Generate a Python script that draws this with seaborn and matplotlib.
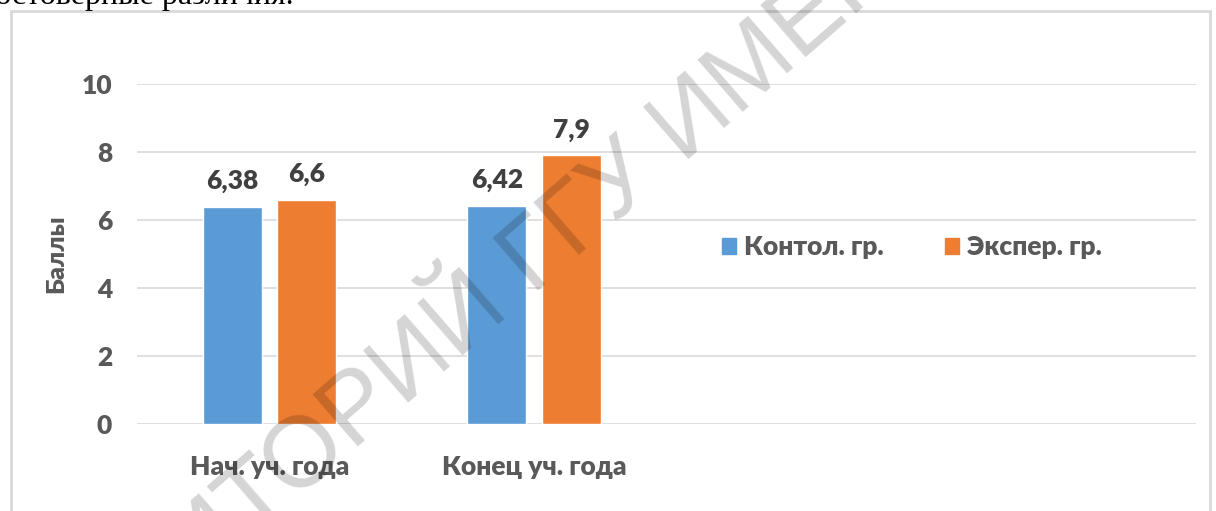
import pandas as pd
import matplotlib
matplotlib.use('Agg')
import matplotlib.pyplot as plt
import matplotlib.patches as mpatches
import seaborn as sns

# chart data
periods = ['Нач. уч. года', 'Конец уч. года']
groups = ['Контол. гр.', 'Экспер. гр.']
control_scores = [6.38, 6.42]
exper_scores = [6.6, 7.9]
y_ticks = [0, 2, 4, 6, 8, 10]

palette = {'Контол. гр.': '#5B9BD5', 'Экспер. гр.': '#ED7D31'}
text_color = '#595959'

df = pd.DataFrame({
    'period': periods * 2,
    'group': [groups[0]] * 2 + [groups[1]] * 2,
    'score': control_scores + exper_scores,
})

sns.set_style('white')
plt.rcParams['font.family'] = ['Lato', 'DejaVu Sans']

fig = plt.figure(figsize=(12.16, 5.11), dpi=100)
ax = fig.add_axes([137 / 1216, 87 / 511, 1059 / 1216, 340 / 511])

sns.barplot(data=df, x='period', y='score', hue='group', order=periods,
            hue_order=groups, palette=palette, width=0.564, gap=0.21,
            saturation=1, ax=ax)

# data labels with decimal comma
for cont in ax.containers:
    labels = [f'{b.get_height():g}'.replace('.', ',') for b in cont]
    ax.bar_label(cont, labels=labels, padding=10, fontsize=19,
                 fontweight='heavy', color='#404040')

ax.set_xlim(-0.5, 3.5)
ax.set_ylim(0, 10)
ax.set_yticks(y_ticks)
ax.grid(axis='y', color='#D9D9D9', linewidth=1.2)
ax.set_axisbelow(True)
sns.despine(ax=ax, left=True, bottom=True)
ax.tick_params(axis='both', length=0, labelsize=19, labelcolor=text_color)
ax.tick_params(axis='y', pad=18)
ax.tick_params(axis='x', pad=22)
for lab in ax.get_xticklabels() + ax.get_yticklabels():
    lab.set_fontweight('heavy')
ax.set_xlabel('')
ax.set_ylabel('Баллы', fontsize=18, fontweight='heavy', color=text_color,
              labelpad=10)

ax.legend_.remove()
handles = [mpatches.Patch(color=palette[g]) for g in groups]
fig.legend(handles, groups, loc='center', bbox_to_anchor=(912 / 1216, 264 / 511),
           ncol=2, frameon=False, handlelength=0.55, handleheight=0.55,
           handletextpad=0.3, columnspacing=2.3,
           prop={'family': 'Lato', 'weight': 'heavy', 'size': 19},
           labelcolor=text_color)

# chart border and page text around it
fig.patches.append(mpatches.Rectangle((11 / 1216, -0.1), 1199 / 1216, 1.1 - 11 / 511,
                                      transform=fig.transFigure, fill=False,
                                      edgecolor='#D9D9D9', linewidth=2))
fig.text(294 / 1216, 507 / 511, 'достоверные различия.', ha='right',
         va='baseline', fontsize=23, family='Liberation Serif', color='black')

# watermark
fig.text(700 / 1216, 1 - 150 / 511, 'РЕПОЗИТОРИЙ ГГУ ИМЕНИ Ф. СКОРИНЫ',
         rotation=41, rotation_mode='anchor', ha='center', va='baseline',
         fontsize=72, family='Liberation Sans', color=(0, 0, 0, 0.17),
         path_effects=[])

plt.savefig('out.png', dpi=100)
